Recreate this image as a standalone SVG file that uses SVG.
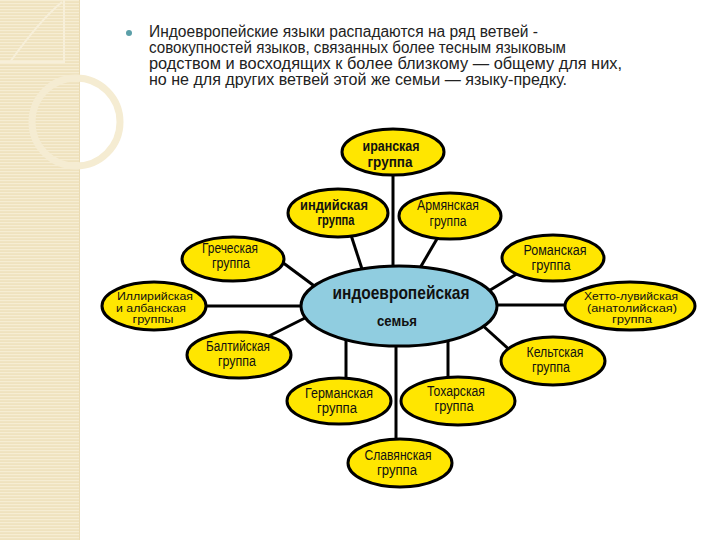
<svg xmlns="http://www.w3.org/2000/svg" width="720" height="540" viewBox="0 0 720 540">
<defs>
<pattern id="stripes" x="0" y="0" width="6" height="3" patternUnits="userSpaceOnUse">
<rect width="6" height="3" fill="#EFE2BE"/>
<rect y="0" width="6" height="1.2" fill="#F6EDD3"/>
</pattern>
<style>
.conn{stroke:#000;stroke-width:3;fill:none}
.grp{fill:#FFE600;stroke:#000;stroke-width:3}
.core{fill:#90CDE0;stroke:#000;stroke-width:3}
.t{font-family:"Liberation Sans",Arial,sans-serif;font-size:14px;fill:#111;text-anchor:middle}
.t3{font-family:"Liberation Sans",Arial,sans-serif;font-size:11px;fill:#111;text-anchor:middle}
.tb{font-family:"Liberation Sans",Arial,sans-serif;font-size:14px;font-weight:bold;fill:#111;text-anchor:middle}
.head{font-family:"Liberation Sans",Arial,sans-serif;font-size:16px;fill:#222}
</style>
</defs>
<rect width="720" height="540" fill="#fff"/>
<g id="strip">
<rect x="0" y="0" width="79" height="540" fill="url(#stripes)"/>
<line x1="79.5" y1="0" x2="79.5" y2="540" stroke="#EADBB3" stroke-width="1"/>
<path d="M0 62 L64 62 L64 0" fill="none" stroke="#F7EFD9" stroke-width="2"/>
<path d="M62 2 Q40 20 10 62" fill="none" stroke="#F7EFD9" stroke-width="2"/>
<circle cx="76" cy="122" r="44" fill="none" stroke="#F5ECD2" stroke-width="7"/>
</g>
<g id="heading">
<circle cx="129" cy="33" r="3" fill="#5B9FA8"/>
<text class="head" x="149" y="37" textLength="389" lengthAdjust="spacingAndGlyphs">Индоевропейские языки распадаются на ряд ветвей -</text>
<text class="head" x="149" y="53" textLength="417" lengthAdjust="spacingAndGlyphs">совокупностей языков, связанных более тесным языковым</text>
<text class="head" x="149" y="69" textLength="473" lengthAdjust="spacingAndGlyphs">родством и восходящих к более близкому — общему для них,</text>
<text class="head" x="149" y="85" textLength="418" lengthAdjust="spacingAndGlyphs">но не для других ветвей этой же семьи — языку-предку.</text>
</g>
<g id="connectors">
<line class="conn" x1="393" y1="170" x2="393" y2="270"/>
<line class="conn" x1="350" y1="232" x2="363" y2="272"/>
<line class="conn" x1="441" y1="232" x2="420" y2="268"/>
<line class="conn" x1="278" y1="259" x2="317" y2="288"/>
<line class="conn" x1="200" y1="306" x2="306" y2="306"/>
<line class="conn" x1="265" y1="338" x2="309" y2="316"/>
<line class="conn" x1="520" y1="272" x2="487" y2="292"/>
<line class="conn" x1="492" y1="305" x2="570" y2="305"/>
<line class="conn" x1="512" y1="352" x2="481" y2="324"/>
<line class="conn" x1="346" y1="334" x2="346" y2="382"/>
<line class="conn" x1="396" y1="340" x2="396" y2="443"/>
<line class="conn" x1="448" y1="334" x2="448" y2="381"/>
</g>
<g id="iran">
<ellipse class="grp" cx="393" cy="152" rx="51" ry="23"/>
<text class="tb" x="391" y="151" textLength="57" lengthAdjust="spacingAndGlyphs">иранская</text>
<text class="tb" x="390" y="167" textLength="45" lengthAdjust="spacingAndGlyphs">группа</text>
</g>
<g id="indian">
<ellipse class="grp" cx="338" cy="213" rx="50" ry="24"/>
<text class="tb" x="334" y="210" textLength="68" lengthAdjust="spacingAndGlyphs">индийская</text>
<text class="tb" x="336" y="225" textLength="37" lengthAdjust="spacingAndGlyphs">группа</text>
</g>
<g id="armenian">
<ellipse class="grp" cx="450" cy="216" rx="51" ry="23"/>
<text class="t" x="448" y="210" textLength="62" lengthAdjust="spacingAndGlyphs">Армянская</text>
<text class="t" x="448" y="226" textLength="37" lengthAdjust="spacingAndGlyphs">группа</text>
</g>
<g id="greek">
<ellipse class="grp" cx="233" cy="259" rx="51" ry="22"/>
<text class="t" x="230" y="253" textLength="56" lengthAdjust="spacingAndGlyphs">Греческая</text>
<text class="t" x="231" y="268" textLength="38" lengthAdjust="spacingAndGlyphs">группа</text>
</g>
<g id="illyrian">
<ellipse class="grp" cx="154" cy="306" rx="52" ry="24"/>
<text class="t3" x="155" y="300" textLength="76" lengthAdjust="spacingAndGlyphs">Иллирийская</text>
<text class="t3" x="151" y="311.5" textLength="70" lengthAdjust="spacingAndGlyphs">и албанская</text>
<text class="t3" x="153" y="323" textLength="41" lengthAdjust="spacingAndGlyphs">группы</text>
</g>
<g id="baltic">
<ellipse class="grp" cx="239" cy="355" rx="52" ry="23"/>
<text class="t" x="238" y="351" textLength="64" lengthAdjust="spacingAndGlyphs">Балтийская</text>
<text class="t" x="237" y="366" textLength="38" lengthAdjust="spacingAndGlyphs">группа</text>
</g>
<g id="roman">
<ellipse class="grp" cx="553" cy="258" rx="51" ry="23"/>
<text class="t" x="555" y="255" textLength="63" lengthAdjust="spacingAndGlyphs">Романская</text>
<text class="t" x="551" y="270" textLength="39" lengthAdjust="spacingAndGlyphs">группа</text>
</g>
<g id="hetto">
<ellipse class="grp" cx="630" cy="306" rx="65" ry="24"/>
<text class="t3" x="631" y="300" textLength="94" lengthAdjust="spacingAndGlyphs">Хетто-лувийская</text>
<text class="t3" x="632" y="311.5" textLength="90" lengthAdjust="spacingAndGlyphs">(анатолийская)</text>
<text class="t3" x="632" y="323" textLength="40" lengthAdjust="spacingAndGlyphs">группа</text>
</g>
<g id="celtic">
<ellipse class="grp" cx="553" cy="361" rx="52" ry="24"/>
<text class="t" x="555" y="357" textLength="57" lengthAdjust="spacingAndGlyphs">Кельтская</text>
<text class="t" x="551" y="372" textLength="38" lengthAdjust="spacingAndGlyphs">группа</text>
</g>
<g id="germanic">
<ellipse class="grp" cx="339" cy="401" rx="52" ry="23"/>
<text class="t" x="339" y="398" textLength="68" lengthAdjust="spacingAndGlyphs">Германская</text>
<text class="t" x="337" y="413" textLength="40" lengthAdjust="spacingAndGlyphs">группа</text>
</g>
<g id="tocharian">
<ellipse class="grp" cx="458" cy="401" rx="57" ry="24"/>
<text class="t" x="456" y="396" textLength="58" lengthAdjust="spacingAndGlyphs">Тохарская</text>
<text class="t" x="454" y="411" textLength="39" lengthAdjust="spacingAndGlyphs">группа</text>
</g>
<g id="slavic">
<ellipse class="grp" cx="400" cy="463" rx="52" ry="24"/>
<text class="t" x="398" y="460" textLength="67" lengthAdjust="spacingAndGlyphs">Славянская</text>
<text class="t" x="397" y="475" textLength="40" lengthAdjust="spacingAndGlyphs">группа</text>
</g>
<g id="core">
<ellipse class="core" cx="399" cy="306" rx="98" ry="40"/>
<text x="401" y="299" font-family="Liberation Sans, Arial, sans-serif" font-size="19" font-weight="bold" fill="#111" text-anchor="middle" textLength="137" lengthAdjust="spacingAndGlyphs">индоевропейская</text>
<text x="397" y="326" font-family="Liberation Sans, Arial, sans-serif" font-size="15" font-weight="bold" fill="#111" text-anchor="middle" textLength="40" lengthAdjust="spacingAndGlyphs">семья</text>
</g>
</svg>
